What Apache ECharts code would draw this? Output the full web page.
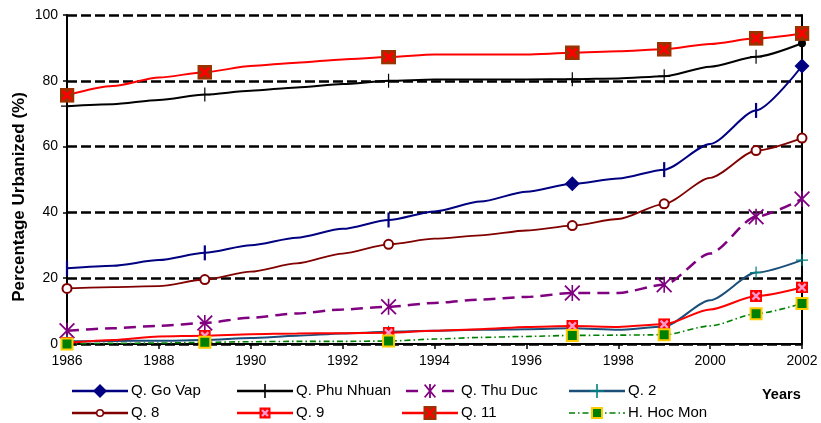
<!DOCTYPE html>
<html>
<head>
<meta charset="utf-8">
<script src="https://cdn.jsdelivr.net/npm/echarts@6/dist/echarts.min.js"></script>
<style>
html,body{margin:0;padding:0;background:#fff;}
#chart{width:821px;height:423px;}
</style>
</head>
<body>
<div id="chart"></div>
<script>
// ---------------- data ----------------
const years = [1986,1987,1988,1989,1990,1991,1992,1993,1994,1995,1996,1997,1998,1999,2000,2001,2002];
const markerYears = [1986,1989,1993,1997,1999,2001,2002];
const xTicks = [1986,1988,1990,1992,1994,1996,1998,2000,2002];
const yTicks = [0,20,40,60,80,100];

const goVap     = [23.0,23.8,25.5,27.7,30.0,32.3,35.0,37.7,40.3,43.3,46.3,48.7,50.3,53.0,60.8,71.0,84.5];
const phuNhuan  = [72.3,72.9,74.2,75.8,77.0,78.0,79.0,80.0,80.4,80.4,80.4,80.5,80.7,81.4,84.3,87.3,91.4];
const thuDuc    = [4.0,4.8,5.5,6.4,8.0,9.3,10.5,11.3,12.5,13.5,14.3,15.5,15.5,18.0,27.5,38.7,44.1];
const q2        = [0.8,0.9,1.0,1.2,1.8,2.5,3.2,3.7,4.0,4.3,4.5,4.8,4.3,5.3,13.3,21.7,25.5];
const q8        = [16.9,17.3,17.6,19.6,22.0,24.5,27.5,30.3,32.0,33.0,34.5,36.0,38.0,42.6,50.5,58.8,62.6];
const q9        = [0.3,1.2,2.3,2.5,3.0,3.2,3.3,3.4,4.0,4.5,5.2,5.5,5.2,6.0,10.5,14.6,17.2];
const q11       = [75.6,78.4,81.0,82.6,84.5,85.5,86.5,87.2,88.0,88.0,88.0,88.5,89.0,89.6,91.2,92.9,94.4];
const hocMon    = [0.0,0.2,0.3,0.5,0.7,0.8,0.8,0.9,1.5,2.0,2.3,2.6,2.7,2.8,5.5,9.2,12.3];

const seriesNames = ['Q. Go Vap','Q. Phu Nhuan','Q. Thu Duc','Q. 2','Q. 8','Q. 9','Q. 11','H. Hoc Mon'];
const yAxisTitle = 'Percentage Urbanized (%)';
const xAxisTitle = 'Years';

// ---------------- styles ----------------
const FONT = '"Liberation Sans", Arial, sans-serif';
const PLUS = 'path://M9,0H11V9H20V11H11V20H9V11H0V9H9Z';
const AST = 'path://M9,0H11V20H9Z M0,1.6L1.6,0L20,18.4L18.4,20Z M18.4,0L20,1.6L1.6,20L0,18.4Z';
function svgImg(s){ return 'image://data:image/svg+xml;charset=utf-8,' + encodeURIComponent(s); }
function markSvg(bg, xc){
  return svgImg('<svg xmlns="http://www.w3.org/2000/svg" width="20" height="20" viewBox="0 0 20 20">' +
    '<rect x="0" y="0" width="20" height="20" fill="'+bg+'"/>' +
    '<path d="M4,4L16,16M16,4L4,16" stroke="'+xc+'" stroke-width="4"/></svg>');
}
const Q9MARK = markSvg('#FF0000','#FF99CC');
const Q11MARK = markSvg('#993300','#FF0000');

function legIcon(inner){
  return svgImg('<svg xmlns="http://www.w3.org/2000/svg" width="56" height="16" viewBox="0 0 56 16">' + inner + '</svg>');
}
const plusSvg = (c)=>'<path d="M27.2,1h1.6v6.2h6.2v1.6h-6.2v6.2h-1.6v-6.2h-6.2v-1.6h6.2z" fill="'+c+'"/>';
const legendIcons = {
  'Q. Go Vap': legIcon('<line x1="0" y1="8" x2="56" y2="8" stroke="#000080" stroke-width="2.5"/><path d="M28,1L35,8L28,15L21,8Z" fill="#000080"/>'),
  'Q. Phu Nhuan': legIcon('<line x1="0" y1="8" x2="56" y2="8" stroke="#000000" stroke-width="2.5"/>' + plusSvg('#000')),
  'Q. Thu Duc': legIcon('<line x1="4" y1="8" x2="16" y2="8" stroke="#800080" stroke-width="2.5"/><line x1="40" y1="8" x2="52" y2="8" stroke="#800080" stroke-width="2.5"/>' +
     '<path d="M27.1,1h1.8v14h-1.8z" fill="#800080"/><path d="M22,2.2L23.2,1L34,13.8L32.8,15z" fill="#800080"/><path d="M32.8,1L34,2.2L23.2,15L22,13.8z" fill="#800080"/>'),
  'Q. 2': legIcon('<line x1="0" y1="8" x2="56" y2="8" stroke="#1B4F7A" stroke-width="2.5"/>' + plusSvg('#008080')),
  'Q. 8': legIcon('<line x1="0" y1="8" x2="56" y2="8" stroke="#800000" stroke-width="2.5"/><circle cx="28" cy="8" r="3.3" fill="#fff" stroke="#800000" stroke-width="1.6"/>'),
  'Q. 9': legIcon('<line x1="0" y1="8" x2="56" y2="8" stroke="#FF0000" stroke-width="2.5"/><rect x="22.5" y="2.5" width="11" height="11" fill="#FF0000"/><path d="M25,5L31,11M31,5L25,11" stroke="#FF99CC" stroke-width="2.4"/>'),
  'Q. 11': legIcon('<line x1="0" y1="8" x2="56" y2="8" stroke="#FF0000" stroke-width="2.5"/><rect x="21.5" y="1" width="13" height="14" fill="#993300"/><path d="M23.5,3L32.5,13M32.5,3L23.5,13" stroke="#FF0000" stroke-width="2.6"/>'),
  'H. Hoc Mon': legIcon('<line x1="0" y1="8" x2="56" y2="8" stroke="#008000" stroke-width="1.5" stroke-dasharray="6,3,1.5,3"/><rect x="23" y="3" width="10" height="10" fill="#008000" stroke="#FFCC00" stroke-width="2"/>')
};

function buildData(vals, markerFn){
  return years.map((y,i)=>{
    const base = {value:[y, vals[i]]};
    if (markerYears.indexOf(y) >= 0) return Object.assign(base, markerFn(y));
    base.symbol = 'none';
    return base;
  });
}

function mkSeries(name, vals, lineStyle, itemColor, markerFn){
  return {
    name: name,
    type: 'line',
    smooth: 0.25,
    smoothMonotone: 'x',
    showAllSymbol: true,
    symbol: 'none',
    lineStyle: lineStyle,
    itemStyle: {color: itemColor},
    emphasis: {disabled: true},
    data: buildData(vals, markerFn)
  };
}

const series = [
  mkSeries('Q. Go Vap', goVap, {color:'#000080', width:2}, '#000080',
    y => (y===1997 || y===2002) ? {symbol:'diamond', symbolSize:15} : {symbol:'rect', symbolSize:[2.2,15]}),
  mkSeries('Q. Phu Nhuan', phuNhuan, {color:'#000000', width:2}, '#000000',
    y => y===2002 ? {symbol:'circle', symbolSize:8} : {symbol:PLUS, symbolSize:[12,14]}),
  mkSeries('Q. Thu Duc', thuDuc, {color:'#800080', width:2.5, type:[12,7]}, '#800080',
    y => ({symbol:AST, symbolSize:16})),
  mkSeries('Q. 2', q2, {color:'#1B4F7A', width:2}, '#008080',
    y => ({symbol:PLUS, symbolSize:12})),
  mkSeries('Q. 8', q8, {color:'#800000', width:1.8}, '#800000',
    y => ({symbol:'emptyCircle', symbolSize:9})),
  mkSeries('Q. 9', q9, {color:'#FF0000', width:2}, '#FF0000',
    y => ({symbol:Q9MARK, symbolSize:12})),
  mkSeries('Q. 11', q11, {color:'#FF0000', width:2}, '#FF0000',
    y => ({symbol:Q11MARK, symbolSize:15})),
  mkSeries('H. Hoc Mon', hocMon, {color:'#008000', width:1.6, type:[6,3,1.5,3]}, '#008000',
    y => ({symbol:'rect', symbolSize:11, itemStyle:{color:'#008000', borderColor:'#FFCC00', borderWidth:2}}))
];

function legendCol(left, names){
  return {
    orient: 'vertical',
    left: left,
    top: 383,
    padding: 0,
    itemWidth: 56,
    itemHeight: 16,
    itemGap: 6,
    selectedMode: false,
    textStyle: {fontFamily: FONT, fontSize: 15, color: '#000', padding: [0,0,0,-2]},
    data: names.map(n => ({name: n, icon: legendIcons[n]}))
  };
}

const option = {
  animation: false,
  backgroundColor: '#fff',
  grid: {left: 67, right: 19, top: 15, bottom: 79, containLabel: false},
  legend: [
    legendCol(72, [seriesNames[0], seriesNames[4]]),
    legendCol(237, [seriesNames[1], seriesNames[5]]),
    legendCol(402, [seriesNames[2], seriesNames[6]]),
    legendCol(569, [seriesNames[3], seriesNames[7]])
  ],
  xAxis: {
    type: 'value',
    min: xTicks[0], max: xTicks[xTicks.length-1], interval: 2,
    axisLine: {onZero: false, lineStyle: {color: '#000', width: 2}},
    axisTick: {show: true, length: 5, inside: false, lineStyle: {color: '#000', width: 1.5}},
    axisLabel: {color: '#000', fontFamily: FONT, fontSize: 14, margin: 10, formatter: v => String(v)},
    splitLine: {show: false}
  },
  yAxis: [{
    type: 'value',
    min: yTicks[0], max: yTicks[yTicks.length-1], interval: 20,
    axisLine: {show: true, lineStyle: {color: '#000', width: 2}},
    axisTick: {show: true, length: 4, lineStyle: {color: '#000', width: 1.5}},
    axisLabel: {color: '#000', fontFamily: FONT, fontSize: 14, margin: 9},
    splitLine: {show: true, lineStyle: {color: '#000', width: 2.6, type: [10,4]}}
  }, {
    type: 'value', position: 'right',
    min: 0, max: 100, interval: 20,
    axisLine: {show: true, lineStyle: {color: '#000', width: 2}},
    axisTick: {show: false}, axisLabel: {show: false}, splitLine: {show: false}
  }],
  graphic: [{
    type: 'text', left: 762, top: 387,
    style: {text: xAxisTitle, font: 'bold 14.5px ' + FONT, fill: '#000'}
  }, {
    type: 'text', x: 19, y: 197, rotation: Math.PI / 2,
    style: {text: yAxisTitle, font: 'bold 17px ' + FONT, fill: '#000', align: 'center', verticalAlign: 'middle'}
  }],
  series: series
};

const chart = echarts.init(document.getElementById('chart'), null, {renderer: 'canvas'});
chart.setOption(option);
</script>
</body>
</html>
